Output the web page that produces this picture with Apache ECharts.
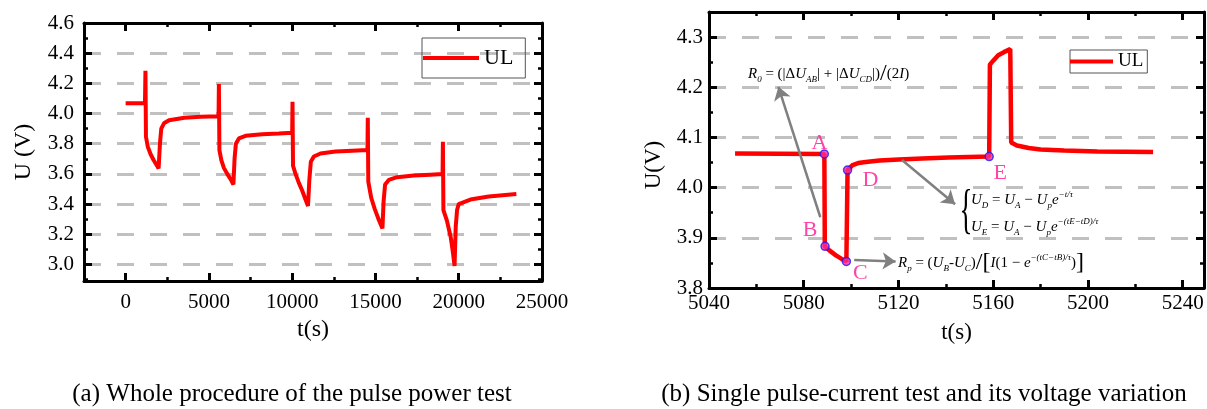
<!DOCTYPE html>
<html>
<head>
<meta charset="utf-8">
<script src="https://cdn.jsdelivr.net/npm/echarts@6/dist/echarts.min.js"></script>
<style>
  html, body { margin: 0; padding: 0; background: #fff; }
  #chart { width: 1207px; height: 409px; }
</style>
</head>
<body>
<div id="chart"></div>
<script>
// (a) whole pulse power test: time (s) / voltage (V)
const T_WHOLE = [
  0, 1160, 1190, 1220, 1330, 1500, 1677, 1850, 1980, 2060, 2140, 2300, 2605, 3530, 4500, 5580,
  5600, 5630, 5750, 5900, 6100, 6300, 6470, 6540, 6620, 6800, 7200, 8200, 9200, 10000,
  10020, 10050, 10200, 10400, 10600, 10800, 10950, 11030, 11120, 11300, 11700, 12600, 13600, 14520,
  14540, 14570, 14750, 14950, 15150, 15300, 15420, 15490, 15580, 15800, 16300, 17300, 18300, 19030,
  19050, 19080, 19290, 19520, 19650, 19750, 19820, 19900, 20000, 20700, 21800, 23460,
]
const U_WHOLE = [
  4.068, 4.068, 4.284, 3.846, 3.78, 3.73, 3.692, 3.66, 3.636, 3.80, 3.90, 3.935, 3.955, 3.972, 3.978, 3.982,
  4.195, 3.758, 3.69, 3.64, 3.60, 3.565, 3.53, 3.70, 3.80, 3.835, 3.852, 3.862, 3.868, 3.873,
  4.078, 3.654, 3.60, 3.54, 3.49, 3.43, 3.387, 3.56, 3.68, 3.715, 3.735, 3.748, 3.754, 3.758,
  3.972, 3.548, 3.44, 3.37, 3.31, 3.27, 3.239, 3.42, 3.53, 3.56, 3.578, 3.589, 3.595, 3.599,
  3.813, 3.36, 3.29, 3.18, 3.08, 2.99, 3.25, 3.36, 3.40, 3.43, 3.45, 3.466,
]

// (b) single pulse: time (s) / voltage (V)
const T_PULSE = [
  5051, 5088.7, 5088.9, 5090.8, 5093.6, 5096, 5098.0, 5098.5, 5100.6, 5103, 5106.2, 5112, 5120.2, 5130,
  5141.1, 5158.3, 5158.6, 5160, 5162.1, 5164.5, 5167.2, 5167.6, 5170, 5175, 5180, 5190, 5204, 5227.5,
]
const U_PULSE = [
  4.068, 4.067, 3.883, 3.875, 3.865, 3.858, 3.853, 4.035, 4.045, 4.049, 4.051, 4.054, 4.056, 4.058,
  4.060, 4.062, 4.245, 4.253, 4.264, 4.270, 4.276, 4.090, 4.084, 4.079, 4.076, 4.074, 4.072, 4.071,
]

const KEY_NAMES = ['A', 'B', 'C', 'D', 'E']
const KEY_T = [5088.7, 5089.0, 5098.0, 5098.5, 5158.3]
const KEY_U = [4.067, 3.883, 3.853, 4.035, 4.062]

// annotation arrows, [t, U] from -> to
const ARROWS = [
  [[5087.0, 3.941], [5069.3, 4.201]],
  [[5121.5, 4.055], [5143.9, 3.967]],
  [[5101.3, 3.856], [5118.8, 3.853]],
]

const FONT = 'Liberation Serif'
const LABEL_OFFSET = { A: [-5, -11], B: [-15, -16], C: [14, 12], D: [23, 10], E: [11, 17] }

function isMult(v, step) {
  const k = v / step
  return Math.abs(k - Math.round(k)) < 1e-6
}

function axis(gridIndex, position, range, label, extra) {
  return Object.assign({
    type: 'value',
    gridIndex,
    position,
    min: range[0],
    max: range[1],
    axisLine: { show: true, onZero: false, lineStyle: { color: '#000', width: 3 } },
    axisTick: { show: true, inside: true, length: 8, lineStyle: { color: '#000', width: 3 } },
    minorTick: { show: true, splitNumber: 2, length: 4, lineStyle: { color: '#000', width: 2.5 } },
    axisLabel: label
      ? Object.assign({ color: '#000', fontFamily: FONT, fontSize: 21 }, label)
      : { show: false },
    splitLine: { show: false },
  }, extra || {})
}

const gridSplit = { show: true, lineStyle: { color: '#c0c0c0', width: 3, type: [17, 16] } }

const rich = {
  i: { fontFamily: FONT, fontSize: 15, fontStyle: 'italic', lineHeight: 20 },
  s: { fontFamily: FONT, fontSize: 9, fontStyle: 'italic', verticalAlign: 'bottom', lineHeight: 9 },
  p: { fontFamily: FONT, fontSize: 9, fontStyle: 'italic', verticalAlign: 'top', lineHeight: 9 },
  b: { fontFamily: FONT, fontSize: 24, lineHeight: 20 },
}
function formula(left, top, text) {
  return {
    type: 'text', left, top, silent: true,
    style: { text, rich, fontFamily: FONT, fontSize: 15, lineHeight: 20, fill: '#000' },
  }
}
function caption(x, text) {
  return {
    type: 'text', x, y: 394, silent: true,
    style: { text, fontFamily: FONT, fontSize: 25, fill: '#000', align: 'center', verticalAlign: 'middle' },
  }
}

const chart = echarts.init(document.getElementById('chart'))

chart.setOption({
  animation: false,
  backgroundColor: '#fff',
  grid: [
    { left: 84, top: 23, width: 458, height: 258 },
    { left: 709, top: 12, width: 497, height: 276 },
  ],
  xAxis: [
    axis(0, 'bottom', [-2500, 25000],
      { margin: 11, formatter: v => (isMult(v, 5000) ? String(v) : '') },
      { splitNumber: 5, name: 't(s)', nameLocation: 'middle', nameGap: 36,
        nameTextStyle: { fontFamily: FONT, fontSize: 24, color: '#000' } }),
    axis(0, 'top', [-2500, 25000], null, { splitNumber: 5 }),
    axis(1, 'bottom', [5040, 5249],
      { margin: 5, formatter: v => (isMult(v, 40) ? String(v) : '') },
      { interval: 40, name: 't(s)', nameLocation: 'middle', nameGap: 33,
        nameTextStyle: { fontFamily: FONT, fontSize: 23, color: '#000' } }),
    axis(1, 'top', [5040, 5249], null, { interval: 40 }),
  ],
  yAxis: [
    axis(0, 'left', [2.89, 4.6],
      { margin: 10, formatter: v => (isMult(v, 0.2) ? v.toFixed(1) : '') },
      { splitNumber: 8, splitLine: gridSplit, name: 'U (V)', nameLocation: 'middle', nameGap: 48,
        nameTextStyle: { fontFamily: FONT, fontSize: 24, color: '#000' } }),
    axis(0, 'right', [2.89, 4.6], null, { splitNumber: 8 }),
    axis(1, 'left', [3.8, 4.35],
      { margin: 6, formatter: v => (isMult(v, 0.1) ? v.toFixed(1) : '') },
      { interval: 0.1, splitLine: gridSplit, name: 'U(V)', nameLocation: 'middle', nameGap: 44,
        nameTextStyle: { fontFamily: FONT, fontSize: 23, color: '#000', padding: [0, 30, 0, 0] } }),
    axis(1, 'right', [3.8, 4.35], null, { interval: 0.1 }),
  ],
  legend: [
    {
      data: ['UL'], left: 422, top: 38, icon: 'rect', itemWidth: 56, itemHeight: 4,
      padding: [9, 12, 9, 1], borderColor: '#555', borderWidth: 1, selectedMode: false,
      textStyle: { fontFamily: FONT, fontSize: 22, color: '#000' },
    },
    {
      data: ['UL'], left: 1070, top: 50, icon: 'rect', itemWidth: 43, itemHeight: 4,
      padding: [2, 4, 2, 0], borderColor: '#555', borderWidth: 1, selectedMode: false,
      textStyle: { fontFamily: FONT, fontSize: 19, color: '#000' },
    },
  ],
  series: [
    {
      name: 'UL', type: 'line', xAxisIndex: 0, yAxisIndex: 0,
      data: T_WHOLE.map((t, i) => [t, U_WHOLE[i]]),
      showSymbol: false, color: '#ff0000',
      lineStyle: { color: '#ff0000', width: 4 },
    },
    {
      name: 'UL', type: 'line', xAxisIndex: 2, yAxisIndex: 2,
      data: T_PULSE.map((t, i) => [t, U_PULSE[i]]),
      showSymbol: false, color: '#ff0000',
      lineStyle: { color: '#ff0000', width: 4.5 },
      markLine: {
        silent: true, symbol: ['none', 'arrow'], symbolSize: 13,
        lineStyle: { color: '#808080', width: 2.5, type: 'solid' },
        label: { show: false },
        data: ARROWS.map(([a, b]) => [{ coord: a }, { coord: b }]),
      },
    },
    {
      name: 'points', type: 'scatter', xAxisIndex: 2, yAxisIndex: 2, z: 5,
      symbolSize: 8,
      itemStyle: { color: '#ff2a9a', borderColor: '#1a1aff', borderWidth: 1.5 },
      data: KEY_NAMES.map((n, i) => ({
        name: n, value: [KEY_T[i], KEY_U[i]],
        label: { offset: LABEL_OFFSET[n] },
      })),
      label: {
        show: true, position: 'inside', formatter: '{b}',
        fontFamily: FONT, fontSize: 22, color: '#ff1493',
      },
    },
  ],
  graphic: [
    formula(748, 62, '{i|R}{s|0} = (|Δ{i|U}{s|AB}| + |Δ{i|U}{s|CD}|){b|/}(2{i|I})'),
    formula(971, 190, '{i|U}{s|D} = {i|U}{s|A} − {i|U}{s|p}{i|e}{p|−t/τ}'),
    formula(971, 217, '{i|U}{s|E} = {i|U}{s|A} − {i|U}{s|p}{i|e}{p|−(tE−tD)/τ}'),
    formula(898, 251, '{i|R}{s|p} = ({i|U}{s|B}-{i|U}{s|C}){b|/}{b|[}{i|I}(1 − {i|e}{p|−(tC−tB)/τ}){b|]}'),
    {
      type: 'text', x: 966, y: 213, scaleX: 0.5, silent: true,
      style: { text: '{', fontFamily: FONT, fontSize: 54, fill: '#000', align: 'center', verticalAlign: 'middle' },
    },
    caption(292, '(a) Whole procedure of the pulse power test'),
    caption(924, '(b) Single pulse-current test and its voltage variation'),
  ],
})
</script>
</body>
</html>
